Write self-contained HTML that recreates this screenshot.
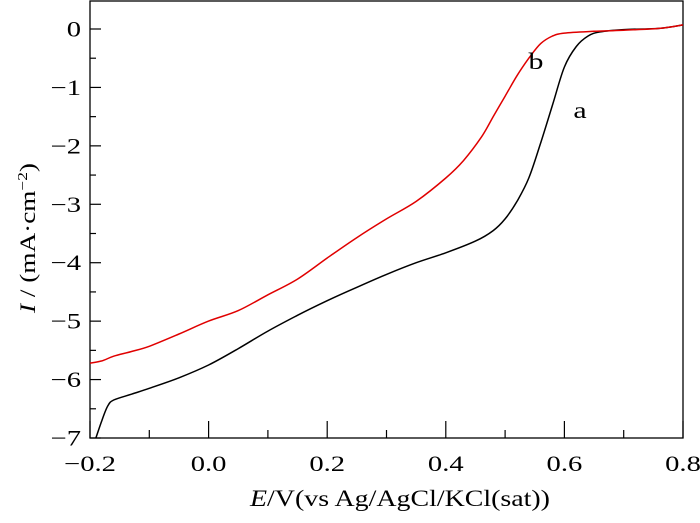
<!DOCTYPE html>
<html><head><meta charset="utf-8"><style>
body{margin:0;background:#fff}
svg text{font-family:"Liberation Serif",serif;fill:#000}
</style></head><body>
<svg id="chart" width="700" height="518" viewBox="0 0 700 518">
<g id="axes"></g><g id="series"></g>
<text transform="translate(536,69) scale(1.3,1)" font-size="23" text-anchor="middle">b</text>
<text transform="translate(580,118) scale(1.3,1)" font-size="23" text-anchor="middle">a</text>
<text x="400" y="506" font-size="23" text-anchor="middle" textLength="300" lengthAdjust="spacingAndGlyphs"><tspan font-style="italic">E</tspan>/V(vs Ag/AgCl/KCl(sat))</text>
<text transform="translate(35,238) rotate(-90)" font-size="22" text-anchor="middle" textLength="150" lengthAdjust="spacingAndGlyphs"><tspan font-style="italic">I</tspan> / (mA·cm<tspan dy="-8" font-size="14">−2</tspan><tspan dy="8">)</tspan></text>
</svg>
<script>
const xTicks=[-0.2,0,0.2,0.4,0.6,0.8];
const xTickLabels=["−0.2","0.0","0.2","0.4","0.6","0.8"];
const yTicks=[0,-1,-2,-3,-4,-5,-6,-7];
const yTickLabels=["0","−1","−2","−3","−4","−5","−6","−7"];
const aE=[-0.19,-0.18,-0.17,-0.16,-0.13,-0.1,-0.05,0,0.05,0.1,0.15,0.2,0.25,0.3,0.35,0.4,0.45,0.48,0.5,0.52,0.54,0.56,0.58,0.6,0.62,0.64,0.66,0.7,0.76,0.8];
const aI=[-7,-6.7,-6.45,-6.35,-6.25,-6.15,-5.97,-5.75,-5.47,-5.17,-4.9,-4.65,-4.42,-4.2,-4.0,-3.83,-3.63,-3.45,-3.25,-2.95,-2.55,-1.95,-1.3,-0.65,-0.3,-0.12,-0.05,-0.01,0.01,0.07];
const bE=[-0.2,-0.18,-0.16,-0.13,-0.1,-0.05,0,0.05,0.1,0.15,0.2,0.25,0.3,0.35,0.4,0.43,0.46,0.48,0.5,0.52,0.54,0.56,0.58,0.6,0.65,0.7,0.76,0.8];
const bI=[-5.72,-5.68,-5.6,-5.52,-5.43,-5.22,-5.0,-4.82,-4.55,-4.28,-3.92,-3.57,-3.25,-2.95,-2.55,-2.25,-1.85,-1.5,-1.15,-0.8,-0.5,-0.25,-0.12,-0.07,-0.04,-0.02,0.01,0.07];
const L=90,R=683,T=1,B=438;
const xs=v=>L+(v+0.2)/1.0*(R-L);
const ys=v=>29+(-v)*(B-29)/7;
const NS="http://www.w3.org/2000/svg";
const ax=document.getElementById('axes'),se=document.getElementById('series');
function mk(tag,at,p){const e=document.createElementNS(NS,tag);for(const k in at)e.setAttribute(k,at[k]);p.appendChild(e);return e;}
const fr=mk('rect',{x:L,y:T,width:R-L,height:B-T,fill:'none',stroke:'#000','stroke-width':1.3},ax);


for(let v=-0.2;v<=0.801;v+=0.1){const major=Math.abs(Math.round(v*10))%2===0;const x=xs(v);
 const t=mk('line',{x1:x,x2:x,y1:B,y2:B-(major?17:8),stroke:'#000','stroke-width':1.2},ax);
 
 }
for(let v=0;v>=-7;v-=0.5){const major=Number.isInteger(v);const y=ys(v);
 const t=mk('line',{x1:L,x2:L+(major?11:6),y1:y,y2:y,stroke:'#000','stroke-width':1.2},ax);
 
 }
xTicks.forEach((v,i)=>{const t=mk('text',{transform:'translate('+xs(v)+',471) scale(1.3,1)','font-size':22,'text-anchor':'middle'},ax);t.textContent=xTickLabels[i];
 
 });
yTicks.forEach((v,i)=>{const t=mk('text',{transform:'translate(81,'+(ys(v)+7.5)+') scale(1.3,1)','font-size':22,'text-anchor':'end'},ax);t.textContent=yTickLabels[i];
 
 });
function line(E,I,c,n){
 const P=E.map((e,i)=>[xs(e),ys(I[i])]);
 let d='M'+P[0][0].toFixed(1)+','+P[0][1].toFixed(1);
 for(let i=0;i<P.length-1;i++){const p0=P[Math.max(i-1,0)],p1=P[i],p2=P[i+1],p3=P[Math.min(i+2,P.length-1)];
  const c1=[p1[0]+(p2[0]-p0[0])/6,p1[1]+(p2[1]-p0[1])/6],c2=[p2[0]-(p3[0]-p1[0])/6,p2[1]-(p3[1]-p1[1])/6];
  d+='C'+c1.map(v=>v.toFixed(1)).join(',')+' '+c2.map(v=>v.toFixed(1)).join(',')+' '+p2[0].toFixed(1)+','+p2[1].toFixed(1);}
 const p=mk('path',{d:d,fill:'none',stroke:c,'stroke-width':1.5,'stroke-linejoin':'round'},se);
 
 }
line(aE,aI,'#000','curve-a');
line(bE,bI,'#e00000','curve-b');
</script>
</body></html>
